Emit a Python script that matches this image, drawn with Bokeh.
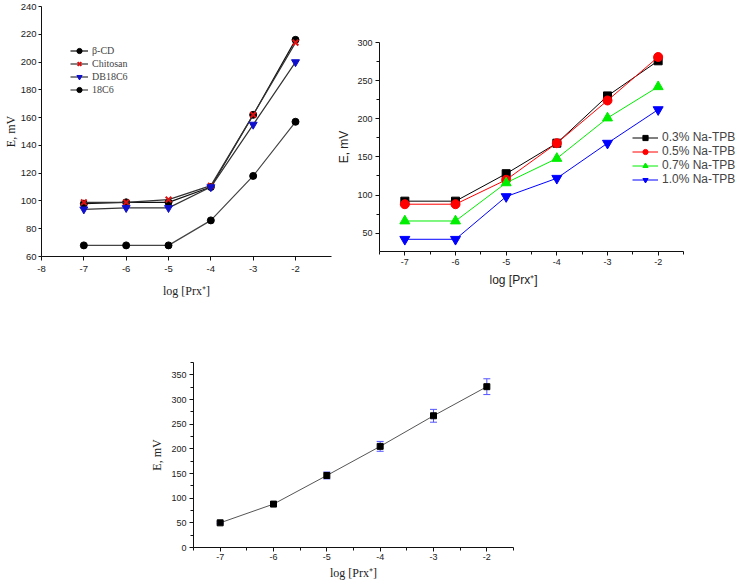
from bokeh.plotting import figure
from bokeh.layouts import column, row
from bokeh.models import (Range1d, FixedTicker, Legend, LegendItem, Spacer, Title,
                          ColumnDataSource, Whisker, TeeHead)
from bokeh.embed import file_html
from bokeh.resources import INLINE

# ---------------- data ----------------
x_log = [-7, -6, -5, -4, -3, -2]

# panel 1 (ionophores)
beta_cd = [98, 99, 99, 110, 162, 216]
chitosan = [99, 99, 101, 111, 162, 214]
db18c6 = [94, 95, 95, 110, 155, 200]
c18c6 = [68, 68, 68, 86, 118, 157]

# panel 2 (Na-TPB content)
tpb_03 = [92, 92, 128, 168, 230, 276]
tpb_05 = [88, 88, 120, 168, 224, 281]
tpb_07 = [66, 66, 116, 148, 201, 242]
tpb_10 = [42, 42, 98, 122, 168, 212]

# panel 3 (calibration with error bars)
calib_e = [50, 88, 146, 205, 267, 326]
calib_err = [2, 4, 7, 10, 13, 16]

p1_xticks = [-8, -7, -6, -5, -4, -3, -2]
p1_yticks = [60, 80, 100, 120, 140, 160, 180, 200, 220, 240]
p23_xticks = [-7, -6, -5, -4, -3, -2]
p23_xminor = [-7.5, -6.5, -5.5, -4.5, -3.5, -2.5, -1.5]
p2_yticks = [50, 100, 150, 200, 250, 300]
p2_yminor = [75, 125, 175, 225, 275]
p3_yticks = [0, 50, 100, 150, 200, 250, 300, 350]
p3_yminor = [25, 75, 125, 175, 225, 275, 325, 375]

XLABEL = "log [Prx\u207a]"
YLABEL = "E, mV"
SANS = "Liberation Sans"
SERIF = "Liberation Serif"


def style_axes(p, tick_font, tick_size, label_font, label_size, minor=False):
    for ax in (p.xaxis[0], p.yaxis[0]):
        ax.axis_line_color = "#111111"
        ax.axis_line_width = 1
        ax.major_tick_line_color = "#111111"
        ax.major_tick_out = 4
        ax.major_tick_in = 0
        if minor:
            ax.minor_tick_line_color = "#111111"
            ax.minor_tick_out = 3
            ax.minor_tick_in = 0
        else:
            ax.minor_tick_line_color = None
        ax.major_label_text_font = tick_font
        ax.major_label_text_font_size = tick_size
        ax.major_label_text_color = "#222222"
        ax.major_label_standoff = 3
        ax.axis_label_text_font = label_font
        ax.axis_label_text_font_size = label_size
        ax.axis_label_text_font_style = "normal"
        ax.axis_label_text_color = "#222222"
        ax.axis_label_standoff = 4
    p.xgrid.visible = False
    p.ygrid.visible = False
    p.outline_line_color = None
    p.frame_align = False


# ---------------- panel 1 ----------------
p1 = figure(width=333, height=301, output_backend="svg", toolbar_location=None,
            x_range=Range1d(-8, -1.15), y_range=Range1d(60, 240),
            min_border_top=6, min_border_bottom=45, min_border_right=2, min_border_left=20,
            x_axis_label=XLABEL, y_axis_label=YLABEL)
p1.xaxis.ticker = FixedTicker(ticks=p1_xticks)
p1.yaxis.ticker = FixedTicker(ticks=p1_yticks)
p1.xaxis.major_label_overrides = {t: str(t) for t in p1_xticks}
style_axes(p1, SANS, "9.5px", SERIF, "12px")
p1.yaxis.major_tick_out = 3
p1.yaxis.major_label_standoff = 2
p1.yaxis.axis_label_standoff = 0
p1.xaxis.major_label_standoff = 5
p1.xaxis.axis_label_standoff = 9

items1 = []
specs1 = [
    ("\u03b2-CD", beta_cd, "circle", "black", "black", 7, "#111111"),
    ("Chitosan", chitosan, "x", "#dd1111", "#dd1111", 8, "#333333"),
    ("DB18C6", db18c6, "inverted_triangle", "#1010cc", "#1010cc", 8, "#333333"),
    ("18C6", c18c6, "circle", "black", "black", 7, "#444444"),
]
for name, ys, marker, fc, lc, sz, linec in specs1:
    lr = p1.line(x_log, ys, line_color=linec, line_width=1.2)
    sr = p1.scatter(x_log, ys, marker=marker, size=sz, fill_color=fc, line_color=lc,
                    line_width=2 if marker == "x" else 1)
    items1.append(LegendItem(label=name, renderers=[lr, sr]))
leg1 = Legend(items=items1, location=(29, 160), padding=0, margin=0, spacing=0,
              glyph_width=18, glyph_height=13, label_height=13, label_standoff=4,
              label_text_font=SERIF, label_text_font_size="10px",
              border_line_color=None, background_fill_alpha=0)
p1.add_layout(leg1)

# ---------------- panel 2 ----------------
# frame spans 359 px; -7.5..-1.5 occupies 304 px, the rest hosts the legend
p2_xend = -7.5 + 6 * 359 / 304
p2 = figure(width=405, height=301, output_backend="svg", toolbar_location=None,
            x_range=Range1d(-7.5, p2_xend), y_range=Range1d(26, 300),
            min_border_top=42, min_border_bottom=50, min_border_right=0, min_border_left=46,
            y_axis_label=YLABEL)
p2.xaxis.ticker = FixedTicker(ticks=p23_xticks, minor_ticks=p23_xminor)
p2.yaxis.ticker = FixedTicker(ticks=p2_yticks, minor_ticks=p2_yminor)
p2.xaxis.major_label_overrides = {t: str(t) for t in p23_xticks}
p2.xaxis.bounds = (-7.5, -1.5)
style_axes(p2, SANS, "9px", SANS, "12px", minor=True)
p2.yaxis.axis_label_standoff = 3
p2.add_layout(Title(text=XLABEL, align="left", offset=110, standoff=6,
                    text_font=SANS, text_font_size="12px", text_font_style="normal",
                    text_color="#222222"), "below")

items2 = []
specs2 = [
    ("0.3% Na-TPB", tpb_03, "square", "#000000", 8),
    ("0.5% Na-TPB", tpb_05, "circle", "#ff0000", 9),
    ("0.7% Na-TPB", tpb_07, "triangle", "#00ee00", 10),
    ("1.0% Na-TPB", tpb_10, "inverted_triangle", "#0000ff", 10),
]
for name, ys, marker, col, sz in specs2:
    lr = p2.line(x_log, ys, line_color=col, line_width=1)
    sr = p2.scatter(x_log, ys, marker=marker, size=sz, fill_color=col, line_color=col)
    items2.append(LegendItem(label=name, renderers=[lr, sr]))
leg2 = Legend(items=items2, location=(253, 65), padding=0, margin=0, spacing=0,
              glyph_width=26, glyph_height=13, label_height=13, label_standoff=4,
              label_text_font=SANS, label_text_font_size="12px",
              border_line_color=None, background_fill_alpha=0)
p2.add_layout(leg2)

# ---------------- panel 3 ----------------
p3 = figure(width=376, height=281, output_backend="svg", toolbar_location=None,
            x_range=Range1d(-7.5, -1.5), y_range=Range1d(0, 375),
            min_border_top=61, min_border_bottom=32, min_border_right=10, min_border_left=40,
            x_axis_label=XLABEL, y_axis_label=YLABEL)
p3.xaxis.ticker = FixedTicker(ticks=p23_xticks, minor_ticks=p23_xminor)
p3.yaxis.ticker = FixedTicker(ticks=p3_yticks, minor_ticks=p3_yminor)
p3.xaxis.major_label_overrides = {t: str(t) for t in p23_xticks}
style_axes(p3, SANS, "9px", SERIF, "12px", minor=True)
p3.xaxis.major_label_standoff = 2
p3.xaxis.axis_label_standoff = 3

upper = [v + e for v, e in zip(calib_e, calib_err)]
lower = [v - e for v, e in zip(calib_e, calib_err)]
src3 = ColumnDataSource(data=dict(x=x_log, y=calib_e, upper=upper, lower=lower))
p3.line("x", "y", source=src3, line_color="#555555", line_width=1)
wh = Whisker(base="x", upper="upper", lower="lower", source=src3,
             line_color="#5555ff", line_width=1,
             upper_head=TeeHead(size=7, line_color="#5555ff", line_width=1),
             lower_head=TeeHead(size=7, line_color="#5555ff", line_width=1))
p3.add_layout(wh)
p3.scatter("x", "y", source=src3, marker="square", size=6, fill_color="black", line_color="black")

layout = column(row(p1, p2), row(Spacer(width=147, height=281), p3))

open("out.html", "w").write(file_html(layout, INLINE))
